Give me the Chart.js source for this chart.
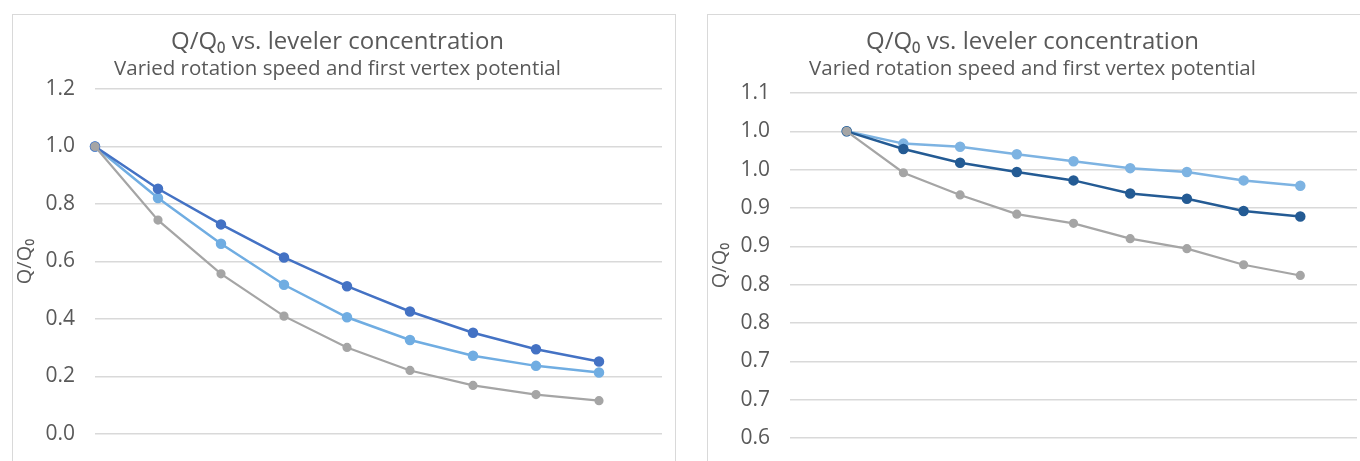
<!DOCTYPE html>
<html>
<head>
<meta charset="utf-8">
<script src="https://cdn.jsdelivr.net/npm/chart.js@4.4.1/dist/chart.umd.min.js"></script>
<style>
  html, body { margin: 0; padding: 0; background: #ffffff; width: 1360px; height: 461px; overflow: hidden; }
  .panel { position: absolute; border: 1px solid #d9d9d9; background: #fff; }
  #p1 { left: 12px; top: 14px; width: 662px; height: 480px; }
  #p2 { left: 707px; top: 14px; width: 662px; height: 480px; }
  canvas { display: block; }
</style>
</head>
<body>
<div class="panel" id="p1"><canvas id="c1" width="662" height="480"></canvas></div>
<div class="panel" id="p2"><canvas id="c2" width="662" height="480"></canvas></div>
<script>
// ---- Data ----
const chartTitle = 'Q/Q\u2080 vs. leveler concentration';
const chartSubtitle = 'Varied rotation speed and first vertex potential';
const yAxisTitle = 'Q/Q\u2080';

// Left chart
const leftCategories = ['1', '2', '3', '4', '5', '6', '7', '8', '9', ''];
const leftDark  = [1.000, 0.853, 0.729, 0.614, 0.514, 0.426, 0.352, 0.295, 0.252];
const leftLight = [1.000, 0.821, 0.662, 0.519, 0.406, 0.327, 0.272, 0.237, 0.214];
const leftGray  = [1.000, 0.744, 0.557, 0.410, 0.301, 0.221, 0.169, 0.137, 0.116];
const leftTickLabels = ['0.0', '0.2', '0.4', '0.6', '0.8', '1.0', '1.2'];

// Right chart
const rightCategories = ['', '1', '2', '3', '4', '5', '6', '7', '8', '9', ''];
const rightDark  = [null, 1.000, 0.977, 0.959, 0.947, 0.936, 0.919, 0.912, 0.896, 0.889];
const rightLight = [null, 1.000, 0.984, 0.980, 0.970, 0.961, 0.952, 0.947, 0.936, 0.929];
const rightGray  = [null, 1.000, 0.946, 0.917, 0.892, 0.880, 0.860, 0.847, 0.826, 0.812];
const rightTickLabels = ['0.6', '0.7', '0.7', '0.8', '0.8', '0.9', '0.9', '1.0', '1.0', '1.1'];

// ---- Styling ----
const FONT = "'Open Sans', 'Noto Sans', 'DejaVu Sans', sans-serif";
const TEXT = '#595959';
const GRID = '#d9d9d9';

function ds(label, data, color, width, radius) {
  return {
    label, data,
    borderColor: color, backgroundColor: color,
    pointBackgroundColor: color, pointBorderColor: color,
    borderWidth: width, pointRadius: radius, pointHoverRadius: radius,
    tension: 0, spanGaps: false
  };
}

function makeChart(id, cats, sets, yMin, yMax, step, tickLabels, padBottom, subPadBottom) {
  return new Chart(document.getElementById(id), {
    type: 'line',
    data: { labels: cats, datasets: sets },
    options: {
      responsive: false,
      animation: false,
      devicePixelRatio: 1,
      layout: { padding: { left: 0, right: 13, top: 0, bottom: padBottom } },
      plugins: {
        legend: { display: false },
        tooltip: { enabled: false },
        title: {
          display: true, text: chartTitle, color: TEXT,
          font: { family: FONT, size: 24, weight: 'normal', lineHeight: 1.2 },
          padding: { top: 12.6, bottom: 0 }
        },
        subtitle: {
          display: true, text: chartSubtitle, color: TEXT,
          font: { family: FONT, size: 20.5, weight: 'normal', lineHeight: 1.2 },
          padding: { top: 0.3, bottom: subPadBottom }
        }
      },
      scales: {
        x: {
          type: 'category', display: false, offset: false
        },
        y: {
          min: yMin, max: yMax,
          afterFit: (s) => { s.width = 82; },
          afterBuildTicks: (s) => {
            const t = [];
            for (let i = 0; i < tickLabels.length; i++) t.push({ value: +(yMin + i * step).toFixed(4) });
            s.ticks = t;
          },
          ticks: {
            color: TEXT, padding: 20,
            font: { family: FONT, size: 21 },
            callback: (v, i) => tickLabels[i]
          },
          grid: { color: GRID, lineWidth: 1.5, drawTicks: false },
          border: { display: false },
          title: {
            display: true, text: yAxisTitle, color: TEXT,
            font: { family: FONT, size: 20 }, padding: { top: 0, bottom: 0 }
          }
        }
      }
    }
  });
}

makeChart('c1', leftCategories, [
  ds('Gray', leftGray, '#a5a5a5', 2.2, 3.5),
  ds('Dark', leftDark, '#4472c4', 2.5, 4),
  ds('Light', leftLight, '#70ade2', 2.5, 4)
], 0, 1.2, 0.2, leftTickLabels, 61, 7.7);

makeChart('c2', rightCategories, [
  ds('Gray', rightGray, '#a5a5a5', 2.2, 3.5),
  ds('Dark', rightDark, '#245b94', 2.5, 4),
  ds('Light', rightLight, '#7db3e2', 2.5, 4)
], 0.6, 1.05, 0.05, rightTickLabels, 57, 11.7);
</script>
</body>
</html>
